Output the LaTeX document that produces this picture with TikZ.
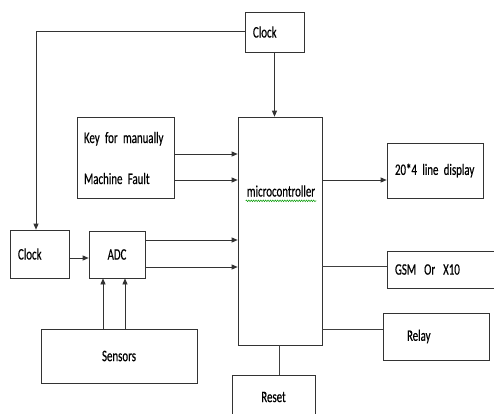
\documentclass[tikz,border=0pt]{standalone}
\usepackage{fontspec}
\setmainfont{Carlito}[FakeStretch=0.68,FakeBold=0.4]
\usetikzlibrary{arrows.meta}
\usetikzlibrary{decorations.pathmorphing}

\newcommand\blkfont{\fontsize{16}{19}\selectfont\spaceskip=2.6pt plus 1pt minus 1pt\relax}

\tikzset{
  blk/.style={shape=rectangle,draw=black!80,line width=0.7pt,text=black,
    font=\blkfont,inner ysep=0pt},
  arr/.style={draw=black!80,line width=0.7pt,-{Triangle[length=6pt,width=5pt]}},
  wire/.style={draw=black!75,line width=0.7pt}
}

\begin{document}
\begin{tikzpicture}[x=1pt,y=-1pt]
\useasboundingbox (0,0) rectangle (494,413);
\fill[white] (0,0) rectangle (494,413);
% blocks
\node (clk) [blk,minimum width=59pt,minimum height=40pt,inner xsep=8pt,text width=43pt,align=left] at (274.5,32) {Clock};
\node (key) [blk,minimum width=97pt,minimum height=81pt,inner xsep=7pt,text width=83pt,align=left] at (125.5,158) {Key for manually\\[22pt]Machine Fault};
\node (mcu) [blk,minimum width=84pt,minimum height=228pt] at (280,231) {};
\node (mcutxt) [text=black,font=\blkfont,inner sep=1pt] at (281,191) {microcontroller};
\draw[green!60!black,line width=0.5pt,decorate,decoration={snake,amplitude=0.8pt,segment length=2.4pt}] ([yshift=-3pt]mcutxt.south west) -- ([yshift=-3pt]mcutxt.south east);
\node (clkb) [blk,minimum width=59pt,minimum height=48pt,inner xsep=8pt,text width=43pt,align=left] at (39.5,254) {Clock};
\node (adc) [blk,minimum width=56pt,minimum height=47pt] at (117,254.5) {ADC};
\node (sens) [blk,minimum width=156pt,minimum height=54pt] at (119,356) {Sensors};
\node (disp) [blk,minimum width=96pt,minimum height=55pt,inner xsep=8pt,text width=80pt,align=left] at (435,170.5) {20*4 line display};
\node (gsm) [blk,minimum width=113pt,minimum height=37pt,inner xsep=8pt,text width=97pt,align=left] at (443.5,269.5) {GSM\, Or\, X10};
\node (relay) [blk,minimum width=106pt,minimum height=47pt,inner xsep=24pt,text width=58pt,align=left] at (436,336.5) {Relay};
\node (reset) [blk,minimum width=83pt,minimum height=44pt] at (273.5,397) {Reset};
% connectors
\draw[arr] (clk.west |- 0,31) -| ([xshift=-3.5pt]clkb.north);
\draw[arr] (clk.south) -- (clk.south |- mcu.north);
\draw[arr] (key.east |- 0,154) -- (mcu.west |- 0,154);
\draw[arr] (key.east |- 0,180) -- (mcu.west |- 0,180);
\draw[arr] (clkb.east |- 0,258) -- (adc.west |- 0,258);
\draw[arr] (adc.east |- 0,240) -- (mcu.west |- 0,240);
\draw[arr] (adc.east |- 0,267) -- (mcu.west |- 0,267);
\draw[arr] (sens.north -| 103,0) -- (adc.south -| 103,0);
\draw[arr] (sens.north -| 125,0) -- (adc.south -| 125,0);
\draw[arr] (mcu.east |- 0,180) -- (disp.west |- 0,180);
\draw[wire] (mcu.east |- 0,266) -- (gsm.west |- 0,266);
\draw[wire] (mcu.east |- 0,329) -- (relay.west |- 0,329);
\draw[wire] (mcu.south -| 279,0) -- (reset.north -| 279,0);
\end{tikzpicture}
\end{document}
